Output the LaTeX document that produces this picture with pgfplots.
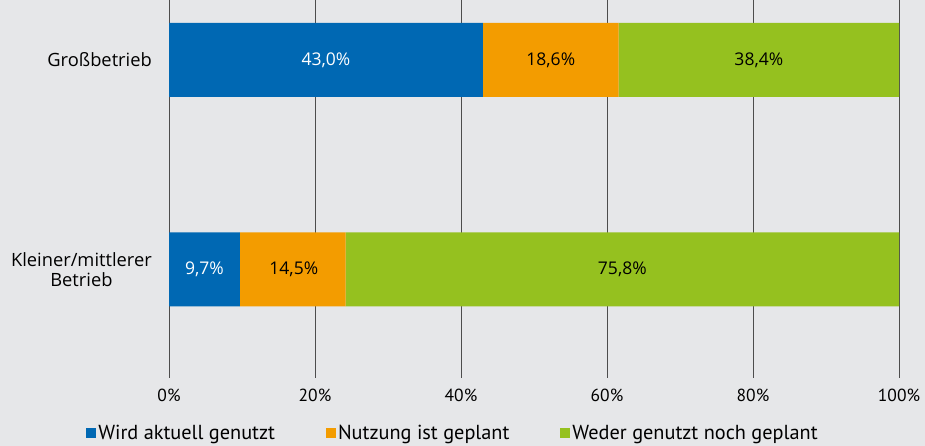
\documentclass[border=0pt]{standalone}
\usepackage{fontspec}
\setmainfont{Open Sans}
\newfontfamily\condfont{PT Sans}
\usepackage{pgfplots}
\usepackage{pgfplotstable}
\pgfplotsset{compat=1.18}
\definecolor{bg}{HTML}{E6E7E9}
\definecolor{cblue}{HTML}{0068B3}
\definecolor{corange}{HTML}{F39C00}
\definecolor{cgreen}{HTML}{95C11F}
\definecolor{gridc}{HTML}{4D4D4D}
\tikzset{lbl/.style={font=\fontsize{17.5}{20}\selectfont}}

% y: 0 = Kleiner/mittlerer Betrieb, 1 = Grossbetrieb
\pgfplotstableread{
y aktuell geplant weder
0 9.7 14.5 75.8
1 43.0 18.6 38.4
}\anteile

\begin{document}
\begin{tikzpicture}
\fill[bg] (0pt,0pt) rectangle (925pt,446pt);
\useasboundingbox (0pt,0pt) rectangle (925pt,446pt);
\begin{axis}[
  at={(169pt,68pt)}, anchor=south west,
  scale only axis, width=730pt, height=378pt,
  xbar stacked, bar width=74pt,
  xmin=0, xmax=100, ymin=-0.518, ymax=1.286,
  axis line style={draw=none}, tick style={draw=none},
  xmajorgrids=true, ymajorgrids=false,
  major grid style={gridc, line width=1pt},
  xtick={0,20,40,60,80,100},
  xticklabels={0\%,20\%,40\%,60\%,80\%,100\%},
  ytick={0,1},
  yticklabels={{Kleiner/mittlerer\\Betrieb},{Großbetrieb}},
  xticklabel style={font=\condfont\fontsize{17.5}{20}\selectfont, anchor=north, inner sep=0pt, yshift=-11pt},
  yticklabel style={font=\fontsize{18.3}{20}\selectfont, align=center, anchor=east, inner sep=0pt, xshift=-17pt},
  legend style={at={(0.389,-0.1455)}, anchor=center, draw=none, fill=none,
    font=\condfont\fontsize{20.3}{22}\selectfont,
    nodes={inner sep=2pt},
    /tikz/every even column/.append style={column sep=49pt}},
  legend columns=3,
  legend image code/.code={\fill[#1] (0pt,-5pt) rectangle (10pt,5pt);},
]
\addplot[fill=cblue, draw=none] table[x=aktuell, y=y] {\anteile};
\addplot[fill=corange, draw=none] table[x=geplant, y=y] {\anteile};
\addplot[fill=cgreen, draw=none] table[x=weder, y=y] {\anteile};
\legend{Wird aktuell genutzt, Nutzung ist geplant, Weder genutzt noch geplant}

\coordinate (g1) at (axis cs:21.5,1);
\coordinate (g2) at (axis cs:52.3,1);
\coordinate (g3) at (axis cs:80.8,1);
\coordinate (k1) at (axis cs:4.85,0);
\coordinate (k2) at (axis cs:17.1,0);
\coordinate (k3) at (axis cs:62.1,0);
\end{axis}
\node[lbl, white] at (g1) {43,0\%};
\node[lbl] at (g2) {18,6\%};
\node[lbl] at (g3) {38,4\%};
\node[lbl, white] at (k1) {9,7\%};
\node[lbl] at (k2) {14,5\%};
\node[lbl] at (k3) {75,8\%};
\end{tikzpicture}
\end{document}
